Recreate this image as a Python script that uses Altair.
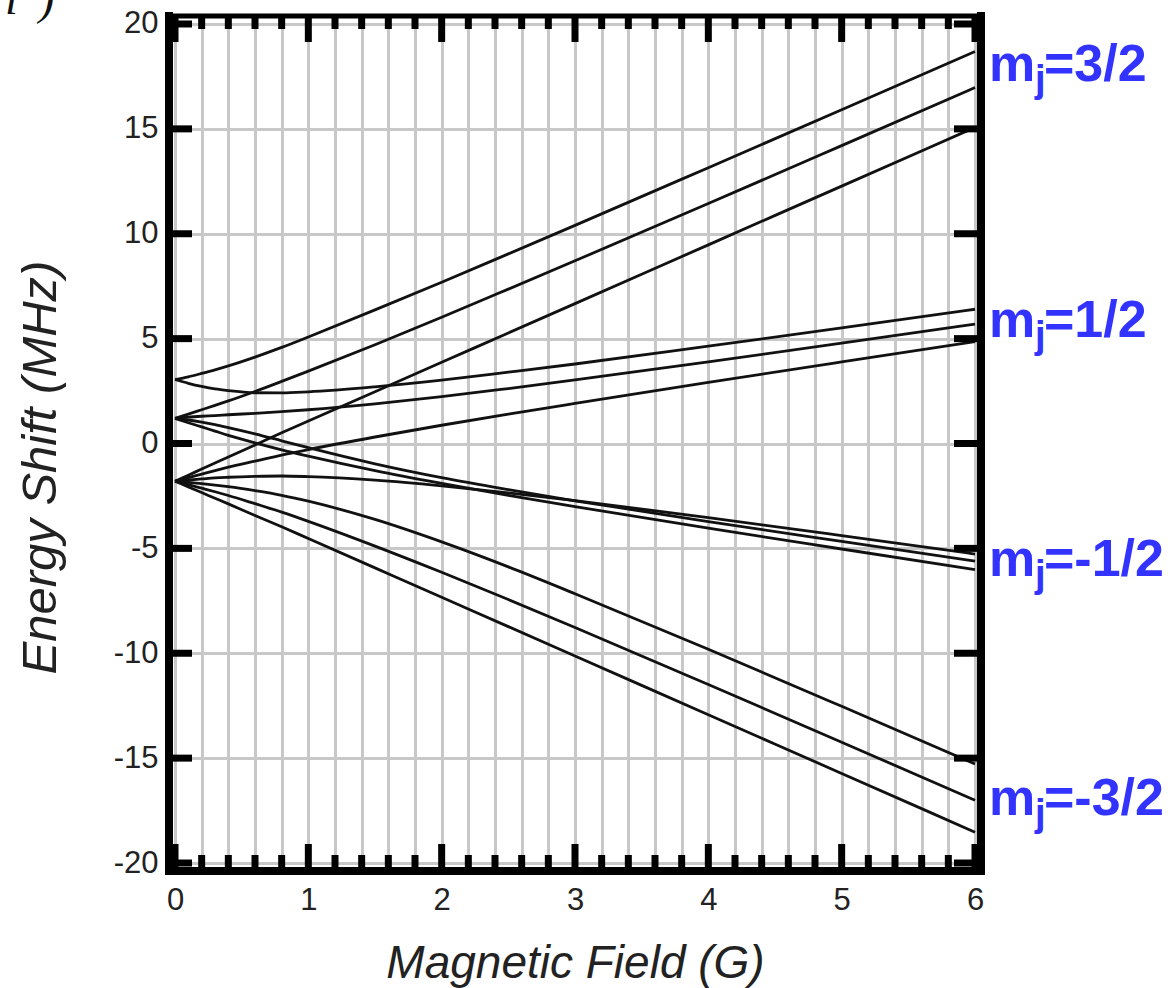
import altair as alt
import pandas as pd

# ---------------- data ----------------
field_G = [0, 0.1, 0.2, 0.3, 0.4, 0.6, 0.8, 1.0, 1.5, 2, 2.5, 3, 4, 5, 6]

curve_a = [3.05, 3.18, 3.34, 3.51, 3.70, 4.12, 4.58, 5.08, 6.37, 7.69, 9.04, 10.40, 13.15, 15.91, 18.69]
curve_d = [3.05, 2.87, 2.72, 2.60, 2.52, 2.42, 2.41, 2.46, 2.70, 3.02, 3.40, 3.79, 4.64, 5.51, 6.40]
curve_b = [1.20, 1.26, 1.30, 1.33, 1.37, 1.44, 1.52, 1.61, 1.89, 2.23, 2.62, 3.03, 3.89, 4.78, 5.69]
curve_e = [1.20, 1.12, 1.02, 0.90, 0.76, 0.46, 0.13, -0.20, -0.97, -1.63, -2.20, -2.73, -3.72, -4.67, -5.61]
curve_g = [1.20, 1.40, 1.61, 1.82, 2.03, 2.48, 2.96, 3.45, 4.71, 6.02, 7.36, 8.71, 11.44, 14.20, 16.97]
curve_i = [1.20, 0.99, 0.79, 0.59, 0.39, 0.03, -0.30, -0.60, -1.29, -1.90, -2.47, -3.01, -4.04, -5.03, -6.01]
curve_c = [-1.80, -1.74, -1.69, -1.64, -1.61, -1.57, -1.55, -1.58, -1.75, -2.02, -2.35, -2.72, -3.53, -4.39, -5.27]
curve_f = [-1.80, -1.85, -1.91, -1.98, -2.06, -2.25, -2.47, -2.75, -3.62, -4.69, -5.88, -7.16, -9.81, -12.53, -15.28]
curve_h = [-1.80, -1.63, -1.46, -1.29, -1.13, -0.84, -0.55, -0.29, 0.31, 0.87, 1.40, 1.91, 2.91, 3.89, 4.86]
curve_j = [-1.80, -1.96, -2.13, -2.30, -2.48, -2.87, -3.27, -3.71, -4.89, -6.14, -7.44, -8.77, -11.49, -14.24, -17.01]
curve_k = [-1.80, -1.51, -1.22, -0.93, -0.64, -0.07, 0.51, 1.07, 2.47, 3.87, 5.27, 6.67, 9.47, 12.27, 15.07]
curve_l = [-1.80, -2.07, -2.34, -2.61, -2.88, -3.43, -3.97, -4.53, -5.93, -7.33, -8.73, -10.13, -12.93, -15.73, -18.53]

x_major = [0, 1, 2, 3, 4, 5, 6]
x_minor = [0.2, 0.4, 0.6, 0.8, 1.2, 1.4, 1.6, 1.8, 2.2, 2.4, 2.6, 2.8, 3.2, 3.4, 3.6, 3.8,
           4.2, 4.4, 4.6, 4.8, 5.2, 5.4, 5.6, 5.8]
y_major = [-20, -15, -10, -5, 0, 5, 10, 15, 20]

mj_labels = ["3/2", "1/2", "-1/2", "-3/2"]
mj_y = [17.28, 5.09, -6.30, -17.71]
mj_x = [6, 6, 6, 6]

# ---------------- tables ----------------
curves = {"a": curve_a, "b": curve_b, "c": curve_c, "d": curve_d, "e": curve_e, "f": curve_f,
          "g": curve_g, "h": curve_h, "i": curve_i, "j": curve_j, "k": curve_k, "l": curve_l}
df = pd.DataFrame([{"x": b, "y": e, "curve": k}
                   for k, vals in curves.items() for b, e in zip(field_G, vals)])
df_xmaj = pd.DataFrame({"x": x_major})
df_xmin = pd.DataFrame({"x": x_minor})
df_ymaj = pd.DataFrame({"y": y_major})
df_lab = pd.DataFrame({"x": mj_x, "y": mj_y, "m": ["m"] * 4, "j": ["j"] * 4,
                       "rest": ["=" + s for s in mj_labels]})
df_one = pd.DataFrame({"k": [0]})

W, H = 812, 855
xs = alt.Scale(domain=[-0.045, 6.045], nice=False, zero=False)
ys = alt.Scale(domain=[-20.381, 20.381], nice=False, zero=False)
XT = "Magnetic Field (G)"
YT = "Energy Shift (MHz)"
grid_x = sorted(x_major + x_minor)
FONT = "Liberation Sans"

x_axis = alt.Axis(values=grid_x, tickCount=60, grid=True, gridColor="#c8c8c8", gridWidth=3,
                  ticks=False, domain=False, labelOverlap=False, labelFlush=False,
                  labelExpr="abs(datum.value - round(datum.value)) < 0.001 ? format(round(datum.value), 'd') : ''",
                  labelFont=FONT, labelFontSize=31, labelColor="#222222", labelPadding=14,
                  title=XT, titleFont=FONT, titleFontSize=46, titleFontStyle="italic",
                  titleFontWeight="normal", titleColor="#222222", titleX=W / 2, titleY=106,
                  titleBaseline="alphabetic", titleAlign="center")
y_axis = alt.Axis(values=y_major, tickCount=20, grid=True, gridColor="#c8c8c8", gridWidth=3,
                  ticks=False, domain=False, labelOverlap=False, labelFlush=False,
                  labelExpr="datum.value < 0 ? '-' + abs(datum.value) : '' + datum.value",
                  labelFont=FONT, labelFontSize=31, labelColor="#222222", labelPadding=11,
                  title=YT, titleFont=FONT, titleFontSize=49, titleFontStyle="italic",
                  titleFontWeight="normal", titleColor="#222222", titleX=-129, titleY=451,
                  titleAngle=270, titleBaseline="middle", titleAlign="center")

X = lambda: alt.X("x:Q", scale=xs, axis=x_axis, title=XT)
Y = lambda: alt.Y("y:Q", scale=ys, axis=y_axis, title=YT)

lines = alt.Chart(df).mark_line(color="#111111", strokeWidth=2.8, interpolate="monotone").encode(
    x=X(), y=Y(), detail="curve:N")

def xtick(data, y0, y1):
    return alt.Chart(data).mark_rule(color="black", strokeWidth=7).encode(
        x=X(), y=alt.value(y0), y2=alt.value(y1))

def ytick(x0, x1):
    return alt.Chart(df_ymaj).mark_rule(color="black", strokeWidth=7).encode(
        y=Y(), x=alt.value(x0), x2=alt.value(x1))

ticks = [
    xtick(df_xmaj, 0, 26), xtick(df_xmin, 0, 13),
    xtick(df_xmaj, H, H - 27), xtick(df_xmin, H, H - 16),
    ytick(0, 23), ytick(W, W - 27),
]

frame = [
    alt.Chart(df_one).mark_rule(color="black", strokeWidth=8, strokeCap="square").encode(
        x=alt.value(0), x2=alt.value(0), y=alt.value(0), y2=alt.value(H)),
    alt.Chart(df_one).mark_rule(color="black", strokeWidth=8, strokeCap="square").encode(
        x=alt.value(W), x2=alt.value(W), y=alt.value(0), y2=alt.value(H)),
    alt.Chart(df_one).mark_rule(color="black", strokeWidth=5, strokeCap="square").encode(
        x=alt.value(0), x2=alt.value(W), y=alt.value(0), y2=alt.value(0)),
    alt.Chart(df_one).mark_rule(color="black", strokeWidth=8, strokeCap="square").encode(
        x=alt.value(0), x2=alt.value(W), y=alt.value(H), y2=alt.value(H)),
]

BLUE = "#3333ff"
def label_layer(col, size, dx, dy):
    return alt.Chart(df_lab).mark_text(align="left", baseline="alphabetic", font=FONT,
                                       fontWeight="bold", fontSize=size, color=BLUE,
                                       dx=dx, dy=dy).encode(
        x=X(), y=Y(), text=f"{col}:N")

labels = [label_layer("m", 52, 14, 0), label_layer("j", 38, 60, 11), label_layer("rest", 52, 69, 0)]

# cut-off panel letter in the top-left corner
panel = [
    alt.Chart(df_one).mark_text(text="i", font="Liberation Serif", fontStyle="italic",
                                fontSize=46, color="#111111", align="left",
                                baseline="alphabetic").encode(
        x=alt.value(-164), y=alt.value(-2)),
    alt.Chart(df_one).mark_text(text=")", font="Liberation Serif", fontStyle="italic",
                                fontSize=46, color="#111111", align="left",
                                baseline="alphabetic").encode(
        x=alt.value(-130), y=alt.value(-2)),
]

chart = alt.layer(lines, *ticks, *frame, *labels, *panel).properties(
    width=W, height=H,
    autosize=alt.AutoSizeParams(type="none"),
    padding={"left": 169, "top": 16, "right": 1174 - 169 - W, "bottom": 988 - 16 - H},
).configure_view(stroke=None)

chart.save("out.html", embed_options={"renderer": "svg", "actions": False})
